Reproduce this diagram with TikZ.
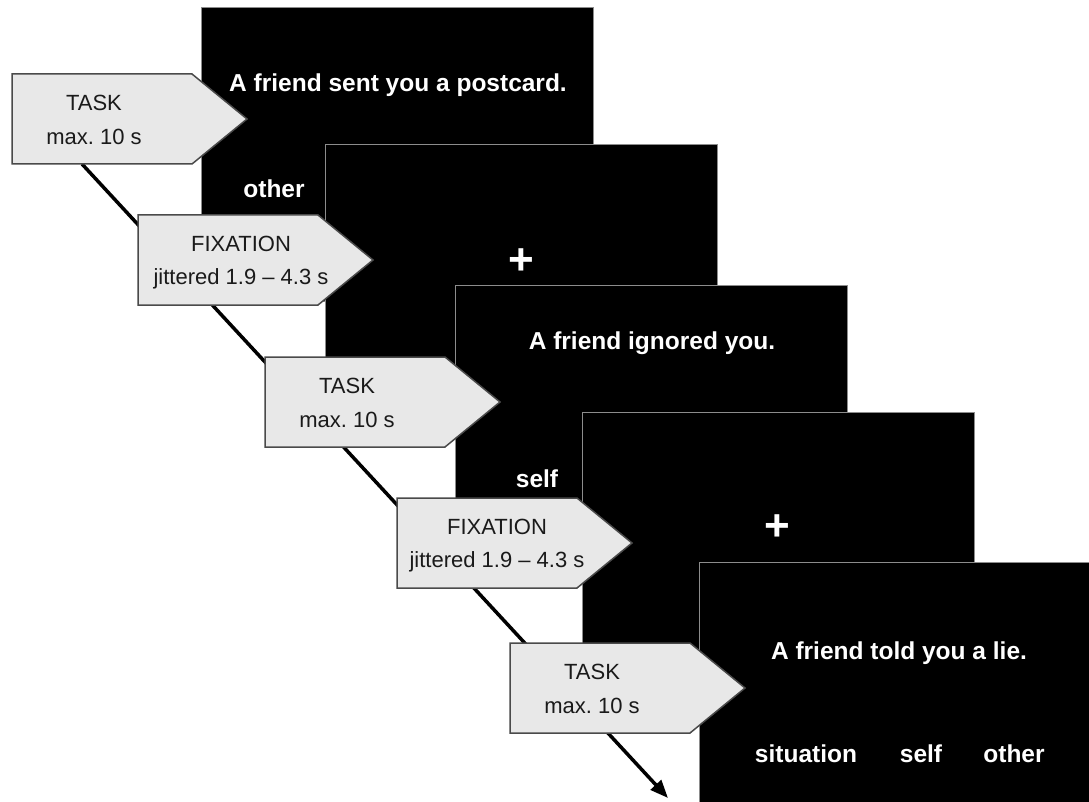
\documentclass[tikz,border=0pt]{standalone}
\usepackage{fontspec}
\setmainfont{Liberation Sans}
\usetikzlibrary{arrows.meta}
\definecolor{lblfill}{HTML}{E8E8E8}
\definecolor{lbldraw}{HTML}{4A4A4A}
\definecolor{lbltext}{HTML}{1A1A1A}
\definecolor{scrborder}{HTML}{8C8C8C}
\newcommand{\mylabelbox}[2]{%
  \path[lblshape] (#1,#2) -- ++(180,0) -- ++(55,45) -- ++(-55,45) -- ++(-180,0) -- cycle;
}
\begin{document}
\begin{tikzpicture}[x=1pt,y=-1pt,
  screen/.style={draw=scrborder, line width=1pt, fill=black, inner sep=0pt,
                 minimum width=392pt, minimum height=294pt, anchor=north west},
  scrtext/.style={text=white, font=\fontsize{24.5}{28}\selectfont\bfseries, inner sep=0pt, anchor=base},
  plussign/.style={text=white, font=\fontsize{44}{48}\selectfont\bfseries, inner sep=0pt, anchor=center},
  lblshape/.style={fill=lblfill, draw=lbldraw, line width=1.5pt, line join=miter},
  lbltxt/.style={text=lbltext, font=\fontsize{22}{26}\selectfont, inner sep=0pt, anchor=base},
  timeline/.style={line width=3.5pt, -{Triangle[length=18pt,width=14pt]}}]
\useasboundingbox (0,0) rectangle (1089,802);
\clip (0,0) rectangle (1089,802);
\fill[white] (0,0) rectangle (1089,802);

% screens
\node[screen] (s1) at (201,7) {};
\node[scrtext] (t1a) at (398,92) {A friend sent you a postcard.};
\node[scrtext] (t1b) at (274,198) {other};

\node[screen] (s2) at (325,144) {};
\node[plussign] (t2) at (521,262) {+};

\node[screen] (s3) at (455,285) {};
\node[scrtext] (t3a) at (652,349) {A friend ignored you.};
\node[scrtext] (t3b) at (537,487) {self};

\node[screen] (s4) at (582,412) {};
\node[plussign] (t4) at (777,528) {+};

\node[screen, minimum width=400pt] (s5) at (699,562) {};
\node[scrtext] (t5a) at (899,659) {A friend told you a lie.};
\node[scrtext] (t5b) at (806,762) {situation};
\node[scrtext] (t5c) at (921,762) {self};
\node[scrtext] (t5d) at (1014,762) {other};

% time line
\coordinate (tlstart) at (82,164);
\coordinate (tlend) at (668,798);
\draw[timeline] (tlstart) -- (tlend);

% labels
\mylabelbox{12}{74}
\node[lbltxt] (l1a) at (94,110.5) {TASK};
\node[lbltxt] (l1b) at (94,144.5) {max.\ 10 s};

\mylabelbox{138}{215}
\node[lbltxt] (l2a) at (241,251.5) {FIXATION};
\node[lbltxt] (l2b) at (241,284.5) {jittered 1.9 -- 4.3 s};

\mylabelbox{265}{357}
\node[lbltxt] (l3a) at (347,393) {TASK};
\node[lbltxt] (l3b) at (347,427) {max.\ 10 s};

\mylabelbox{397}{498}
\node[lbltxt] (l4a) at (497,534.5) {FIXATION};
\node[lbltxt] (l4b) at (497,567.5) {jittered 1.9 -- 4.3 s};

\mylabelbox{510}{643}
\node[lbltxt] (l5a) at (592,679.5) {TASK};
\node[lbltxt] (l5b) at (592,713.5) {max.\ 10 s};
\end{tikzpicture}
\end{document}
